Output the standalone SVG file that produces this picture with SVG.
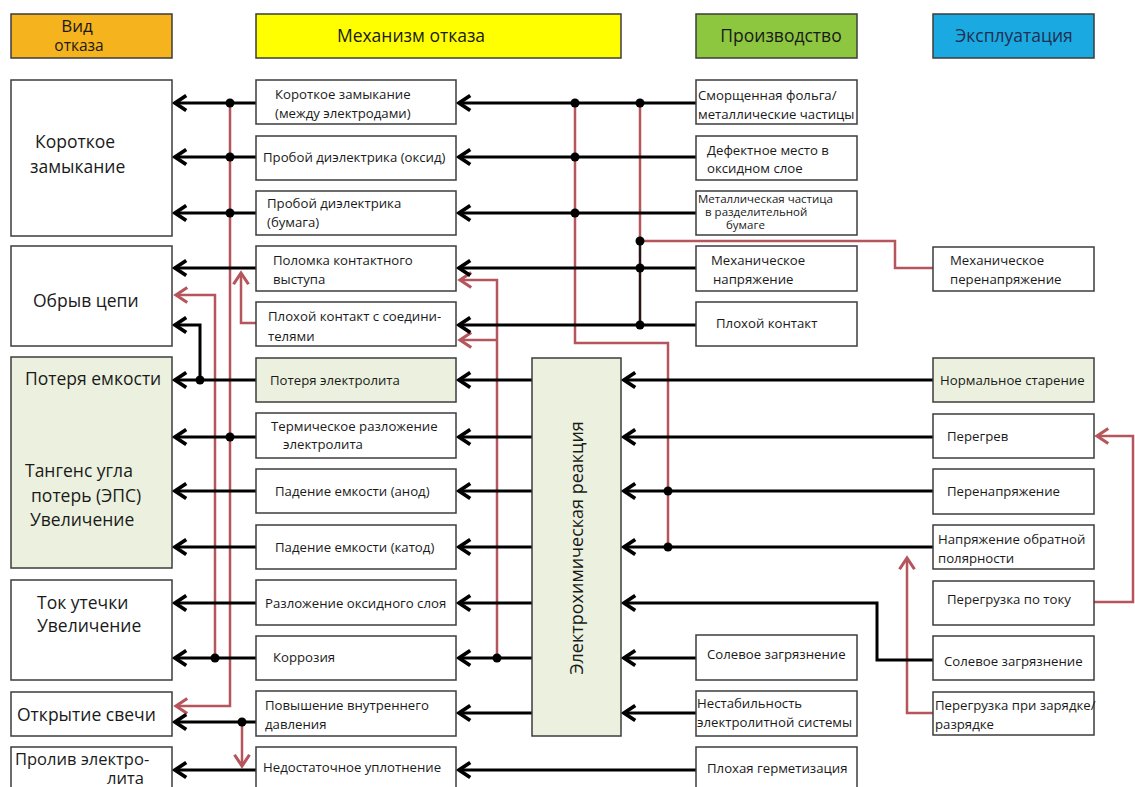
<svg xmlns="http://www.w3.org/2000/svg" width="1135" height="787" viewBox="0 0 1135 787">
<style>
.b{fill:#fff;stroke:#3c3c3c;stroke-width:1.5}
.g{fill:#ebf1de;stroke:#3c3c3c;stroke-width:1.5}
.t{font-family:"Open Sans","Noto Sans",sans-serif;font-size:13.2px;fill:#1a1a1a}
.s{font-size:11.5px}
.f{font-family:"Open Sans","Noto Sans",sans-serif;font-size:17.5px;fill:#1a1a1a}
.h{font-family:"Open Sans","Noto Sans",sans-serif;font-size:17.5px;fill:#1a1a1a;text-anchor:middle}
.k{fill:none;stroke:#000;stroke-width:3}
.r{fill:none;stroke:#b4565b;stroke-width:2.5}
.ka{marker-end:url(#ak)}
.ra{marker-end:url(#ar)}
</style>
<defs>
<marker id="ak" markerUnits="userSpaceOnUse" markerWidth="20" markerHeight="20" viewBox="-12 -8 14 16" refX="0" refY="0" orient="auto">
<path d="M-9,-6 L0,0 L-9,6" fill="none" stroke="#000" stroke-width="3"/>
</marker>
<marker id="ar" markerUnits="userSpaceOnUse" markerWidth="20" markerHeight="20" viewBox="-12 -8 14 16" refX="0" refY="0" orient="auto">
<path d="M-9,-6 L0,0 L-9,6" fill="none" stroke="#b4565b" stroke-width="2.5"/>
</marker>
</defs>
<rect width="1135" height="787" fill="#fff"/>

<g id="headers">
<g id="h-vid"><rect x="11" y="14" width="161" height="44" fill="#f5b31d" stroke="#3c3c3c" stroke-width="1.5"/><text class="h" x="77" y="32" style="font-size:17px">Вид</text><text class="h" x="79" y="51" style="font-size:15.5px">отказа</text></g>
<g id="h-mech"><rect x="256" y="14" width="365" height="44" fill="#ffff00" stroke="#3c3c3c" stroke-width="1.5"/><text class="h" x="411" y="42">Механизм отказа</text></g>
<g id="h-prod"><rect x="696" y="14" width="161" height="44" fill="#8dc63f" stroke="#3c3c3c" stroke-width="1.5"/><text class="h" x="781" y="42">Производство</text></g>
<g id="h-expl"><rect x="933" y="14" width="161" height="44" fill="#1ba9e1" stroke="#3c3c3c" stroke-width="1.5"/><text class="h" x="1014" y="42" style="fill:#1f3050">Эксплуатация</text></g>
</g>

<g id="connectors">
<path class="r ra" d="M230,103 V706 H176"/>
<path class="r ra" d="M215,658 V295 H176"/>
<path class="r ra" d="M258,323 H241 V273"/>
<path class="r ra" d="M242,722 V766"/>
<path class="r" d="M575,103 V343 H668 V547"/>
<path class="r" d="M640,103 V241"/>
<path class="r" d="M640,241 H895 V268 H933"/>
<path class="r ra" d="M497,658 V280 H460"/>
<path class="r ra" d="M497,340 H460"/>
<path class="r ra" d="M1094,602 H1133 V436 H1097"/>
<path class="r ra" d="M933,713 H907 V558"/>
<path d="M640,241 V325" fill="none" stroke="#2a1414" stroke-width="2.5"/>
<path class="k ka" d="M256,103 H175"/>
<path class="k ka" d="M256,157 H175"/>
<path class="k ka" d="M256,213 H175"/>
<path class="k ka" d="M256,268 H175"/>
<path class="k ka" d="M256,380 H175"/>
<path class="k ka" d="M200,380 V325 H175"/>
<path class="k ka" d="M256,437 H175"/>
<path class="k ka" d="M256,491 H175"/>
<path class="k ka" d="M256,547 H175"/>
<path class="k ka" d="M256,603 H175"/>
<path class="k ka" d="M256,658 H175"/>
<path class="k ka" d="M256,722 H175"/>
<path class="k ka" d="M256,770 H175"/>
<path class="k ka" d="M696,103 H459"/>
<path class="k ka" d="M696,157 H459"/>
<path class="k ka" d="M696,213 H459"/>
<path class="k ka" d="M696,268 H459"/>
<path class="k ka" d="M696,325 H459"/>
<path class="k ka" d="M696,770 H459"/>
<path class="k ka" d="M532,380 H459"/>
<path class="k ka" d="M532,437 H459"/>
<path class="k ka" d="M532,491 H459"/>
<path class="k ka" d="M532,547 H459"/>
<path class="k ka" d="M532,603 H459"/>
<path class="k ka" d="M532,658 H459"/>
<path class="k ka" d="M532,713 H459"/>
<path class="k ka" d="M933,380 H624"/>
<path class="k ka" d="M933,437 H624"/>
<path class="k ka" d="M933,491 H624"/>
<path class="k ka" d="M933,547 H624"/>
<path class="k ka" d="M933,660 H877 V603 H624"/>
<path class="k ka" d="M696,658 H624"/>
<path class="k ka" d="M696,713 H624"/>
<g fill="#000">
<circle cx="230" cy="103" r="4.5"/><circle cx="230" cy="157" r="4.5"/><circle cx="230" cy="213" r="4.5"/><circle cx="230" cy="437" r="4.5"/>
<circle cx="200" cy="380" r="4.5"/><circle cx="215" cy="658" r="4.5"/><circle cx="242" cy="722" r="4.5"/>
<circle cx="575" cy="103" r="4.5"/><circle cx="640" cy="103" r="4.5"/><circle cx="575" cy="157" r="4.5"/><circle cx="575" cy="213" r="4.5"/>
<circle cx="640" cy="241" r="4.5"/><circle cx="640" cy="268" r="4.5"/><circle cx="640" cy="325" r="4.5"/>
<circle cx="668" cy="491" r="4.5"/><circle cx="668" cy="547" r="4.5"/><circle cx="497" cy="658" r="4.5"/>
</g>
</g>

<g id="failure-modes">
<g id="f-short"><rect class="b" x="11" y="80" width="161" height="156"/><text class="f" x="35" y="148">Короткое</text><text class="f" x="30" y="173">замыкание</text></g>
<g id="f-open"><rect class="b" x="11" y="246" width="161" height="100"/><text class="f" x="33" y="307">Обрыв цепи</text></g>
<g id="f-cap"><rect class="g" x="11" y="357" width="161" height="211"/><text class="f" x="25" y="385">Потеря емкости</text><text class="f" x="25" y="477">Тангенс угла</text><text class="f" x="31" y="502">потерь (ЭПС)</text><text class="f" x="30" y="526">Увеличение</text></g>
<g id="f-leak"><rect class="b" x="11" y="580" width="161" height="100"/><text class="f" x="37" y="609">Ток утечки</text><text class="f" x="37" y="632">Увеличение</text></g>
<g id="f-vent"><rect class="b" x="11" y="692" width="161" height="44"/><text class="f" x="17" y="721">Открытие свечи</text></g>
<g id="f-spill"><rect class="b" x="11" y="747" width="161" height="50"/><text class="f" x="15" y="765" style="font-size:16.5px">Пролив электро-</text><text class="f" x="107" y="784" style="font-size:16.5px">лита</text></g>
</g>

<g id="mechanisms">
<g id="m1"><rect class="b" x="256" y="80" width="200" height="44"/><text class="t" x="275" y="99">Короткое замыкание</text><text class="t" x="275" y="118">(между электродами)</text></g>
<g id="m2"><rect class="b" x="256" y="136" width="200" height="44"/><text class="t" x="263" y="162">Пробой диэлектрика (оксид)</text></g>
<g id="m3"><rect class="b" x="256" y="191" width="200" height="44"/><text class="t" x="267" y="208">Пробой диэлектрика</text><text class="t" x="267" y="227">(бумага)</text></g>
<g id="m4"><rect class="b" x="256" y="246" width="200" height="45"/><text class="t" x="273" y="265">Поломка контактного</text><text class="t" x="273" y="284">выступа</text></g>
<g id="m5"><rect class="b" x="256" y="302" width="200" height="44"/><text class="t" x="268" y="321">Плохой контакт с соедини-</text><text class="t" x="268" y="341">телями</text></g>
<g id="m6"><rect class="g" x="256" y="358" width="200" height="44"/><text class="t" x="270" y="385">Потеря электролита</text></g>
<g id="m7"><rect class="b" x="256" y="413" width="200" height="45"/><text class="t" x="271" y="431">Термическое разложение</text><text class="t" x="283" y="449">электролита</text></g>
<g id="m8"><rect class="b" x="256" y="469" width="200" height="44"/><text class="t" x="275" y="496">Падение емкости (анод)</text></g>
<g id="m9"><rect class="b" x="256" y="525" width="200" height="44"/><text class="t" x="275" y="552">Падение емкости (катод)</text></g>
<g id="m10"><rect class="b" x="256" y="580" width="200" height="45"/><text class="t" x="265" y="608">Разложение оксидного слоя</text></g>
<g id="m11"><rect class="b" x="256" y="636" width="200" height="44"/><text class="t" x="273" y="662">Коррозия</text></g>
<g id="m12"><rect class="b" x="256" y="691" width="200" height="45"/><text class="t" x="265" y="710">Повышение внутреннего</text><text class="t" x="265" y="729">давления</text></g>
<g id="m13"><rect class="b" x="256" y="747" width="200" height="50"/><text class="t" x="263" y="772">Недостаточное уплотнение</text></g>
</g>

<g id="electrochemical">
<rect class="g" x="532" y="358" width="89" height="378"/>
<text class="h" transform="translate(583,548) rotate(-90)" style="font-size:18px">Электрохимическая реакция</text>
</g>

<g id="production">
<g id="p1"><rect class="b" x="696" y="80" width="161" height="44"/><text class="t" x="698" y="100">Сморщенная фольга/</text><text class="t" x="698" y="119">металлические частицы</text></g>
<g id="p2"><rect class="b" x="696" y="136" width="161" height="44"/><text class="t" x="707" y="155">Дефектное место в</text><text class="t" x="707" y="173">оксидном слое</text></g>
<g id="p3"><rect class="b" x="696" y="191" width="161" height="44"/><text class="t s" x="698" y="203">Металлическая частица</text><text class="t s" x="705" y="216">в разделительной</text><text class="t s" x="726" y="229">бумаге</text></g>
<g id="p4"><rect class="b" x="696" y="246" width="161" height="45"/><text class="t" x="711" y="265">Механическое</text><text class="t" x="713" y="284">напряжение</text></g>
<g id="p5"><rect class="b" x="696" y="302" width="161" height="44"/><text class="t" x="716" y="328">Плохой контакт</text></g>
<g id="p6"><rect class="b" x="696" y="635" width="161" height="45"/><text class="t" x="707" y="659">Солевое загрязнение</text></g>
<g id="p7"><rect class="b" x="696" y="691" width="161" height="45"/><text class="t" x="697" y="708">Нестабильность</text><text class="t" x="697" y="727">электролитной системы</text></g>
<g id="p8"><rect class="b" x="696" y="747" width="161" height="50"/><text class="t" x="707" y="773">Плохая герметизация</text></g>
</g>

<g id="operation">
<g id="o1"><rect class="b" x="933" y="247" width="161" height="44"/><text class="t" x="950" y="265">Механическое</text><text class="t" x="950" y="284">перенапряжение</text></g>
<g id="o2"><rect class="g" x="933" y="358" width="161" height="44"/><text class="t" x="940" y="385">Нормальное старение</text></g>
<g id="o3"><rect class="b" x="933" y="414" width="161" height="44"/><text class="t" x="947" y="441">Перегрев</text></g>
<g id="o4"><rect class="b" x="933" y="469" width="161" height="45"/><text class="t" x="947" y="496">Перенапряжение</text></g>
<g id="o5"><rect class="b" x="933" y="525" width="161" height="44"/><text class="t" x="938" y="544">Напряжение обратной</text><text class="t" x="938" y="563">полярности</text></g>
<g id="o6"><rect class="b" x="933" y="581" width="161" height="44"/><text class="t" x="947" y="604">Перегрузка по току</text></g>
<g id="o7"><rect class="b" x="933" y="636" width="161" height="44"/><text class="t" x="944" y="666">Солевое загрязнение</text></g>
<g id="o8"><rect class="b" x="933" y="692" width="161" height="43"/><text class="t" x="935" y="710">Перегрузка при зарядке/</text><text class="t" x="935" y="729">разрядке</text></g>
</g>
</svg>
